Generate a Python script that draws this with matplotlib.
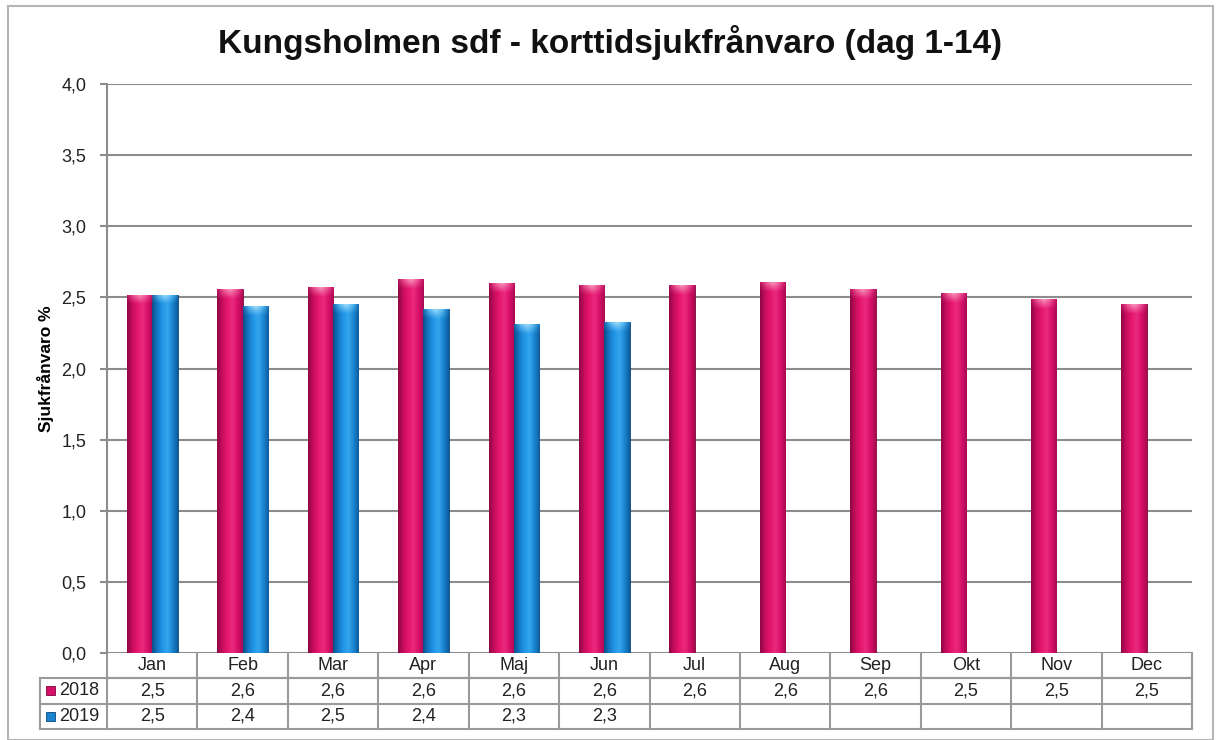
import numpy as np
import matplotlib
matplotlib.use("Agg")
import matplotlib.pyplot as plt
from matplotlib.colors import LinearSegmentedColormap
from matplotlib.patches import Rectangle
from matplotlib.transforms import blended_transform_factory

plt.rcParams['font.family'] = ['Liberation Sans', 'DejaVu Sans']

months = ['Jan', 'Feb', 'Mar', 'Apr', 'Maj', 'Jun', 'Jul', 'Aug', 'Sep', 'Okt', 'Nov', 'Dec']
vals_2018 = [2.52, 2.56, 2.57, 2.63, 2.60, 2.59, 2.59, 2.61, 2.56, 2.53, 2.49, 2.45]
vals_2019 = [2.52, 2.44, 2.45, 2.42, 2.31, 2.33]
series_names = ['2018', '2019']
yticks = [0.0, 0.5, 1.0, 1.5, 2.0, 2.5, 3.0, 3.5, 4.0]

W, H = 1219, 740
fig = plt.figure(figsize=(W / 100, H / 100), dpi=100)

# plot area in pixels: x 107..1192, y 84..653
ax = fig.add_axes([107 / W, (H - 653) / H, (1192 - 107) / W, (653 - 84) / H])

pink_cmap = LinearSegmentedColormap.from_list(
    'pink', ['#8e0745', '#c80d5c', '#e6166f', '#ea2a7c', '#d8106a', '#a80a50'])
blue_cmap = LinearSegmentedColormap.from_list(
    'blue', ['#0b4f8a', '#1478c4', '#2196e6', '#35a5ee', '#1a84d0', '#0e5c9c'])
pink_cap = LinearSegmentedColormap.from_list('pcap', ['#c01060', '#f2609e', '#f8a0c4', '#f2609e', '#c80d62'])
blue_cap = LinearSegmentedColormap.from_list('bcap', ['#1468b0', '#60c2f6', '#a8e0fc', '#60c2f6', '#1474bc'])

x = np.arange(len(months))
bw = 0.28
grad = np.linspace(0, 1, 64).reshape(1, -1)


def cap_image(cmap):
    rgba = cmap(np.linspace(0, 1, 64))[None, :, :].repeat(16, axis=0)
    rgba[:, :, 3] = np.linspace(0.95, 0.0, 16)[:, None]
    return rgba


def shade(bars, cmap, capmap):
    cap_rgba = cap_image(capmap)
    for b in bars:
        x0, w, h = b.get_x(), b.get_width(), b.get_height()
        im = ax.imshow(grad, cmap=cmap, extent=(x0, x0 + w, 0, h),
                       aspect='auto', zorder=3, interpolation='bilinear')
        im.set_clip_path(b)
        cap = ax.imshow(cap_rgba, extent=(x0, x0 + w, h - 0.07, h), origin='upper',
                        aspect='auto', zorder=3.5, interpolation='bilinear')
        cap.set_clip_path(b)


b18 = ax.bar(x - bw / 2, vals_2018, bw, color='#e0106a', edgecolor='#7a063a',
             linewidth=0.6, zorder=2)
b19 = ax.bar(np.arange(len(vals_2019)) + bw / 2, vals_2019, bw, color='#1a8ad4',
             edgecolor='#0a4478', linewidth=0.6, zorder=2)
shade(b18, pink_cmap, pink_cap)
shade(b19, blue_cmap, blue_cap)

ax.set_xlim(-0.5, len(months) - 0.5)
ax.set_ylim(0, 4.0)
ax.set_yticks(yticks)
ax.yaxis.set_major_formatter(plt.FuncFormatter(lambda v, _: '{:.1f}'.format(v).replace('.', ',')))
ax.set_xticks([])
ax.grid(axis='y', color='#8c8c8c', linewidth=1.5, zorder=0)
ax.set_axisbelow(True)
for s in ['top', 'right', 'bottom']:
    ax.spines[s].set_visible(False)
ax.spines['left'].set_color('#8c8c8c')
ax.spines['left'].set_linewidth(1.5)
ax.tick_params(axis='y', length=5, width=1.5, color='#8c8c8c', labelsize=13,
               labelcolor='#222222', pad=10)
ax.set_ylabel('Sjukfrånvaro %', fontsize=12.5, fontweight='bold', labelpad=5)

fig.text(0.5, 1 - 42 / H, 'Kungsholmen sdf - korttidsjukfrånvaro (dag 1-14)',
         ha='center', va='center', fontsize=24, fontweight='bold', color='#111111')

# data table under the chart
tr = blended_transform_factory(ax.transData, ax.transAxes)
row_h = 25.3 / (653 - 84)
line_kw = dict(color='#9a9a9a', linewidth=1.5, transform=tr, clip_on=False)
col_px = (1192 - 107) / 12
key_left = -0.5 - 67 / col_px
n = len(months)

# horizontal lines
ax.plot([-0.5, n - 0.5], [-row_h, -row_h], **line_kw)
ax.plot([key_left, n - 0.5], [-row_h, -row_h], **line_kw)
ax.plot([key_left, n - 0.5], [-2 * row_h, -2 * row_h], **line_kw)
ax.plot([key_left, n - 0.5], [-3 * row_h, -3 * row_h], **line_kw)
# vertical lines
for i in range(n + 1):
    ax.plot([i - 0.5, i - 0.5], [0, -3 * row_h], **line_kw)
ax.plot([key_left, key_left], [-row_h, -3 * row_h], **line_kw)

for i, m in enumerate(months):
    ax.text(i, -0.5 * row_h, m, transform=tr, ha='center', va='center',
            fontsize=13, color='#222222', clip_on=False)
for r, vals in enumerate([vals_2018, vals_2019]):
    for i, v in enumerate(vals):
        ax.text(i, -(1.5 + r) * row_h, '{:.1f}'.format(v).replace('.', ','),
                transform=tr, ha='center', va='center', fontsize=13,
                color='#222222', clip_on=False)

key_colors = ['#d8106a', '#1a84d0']
key_edges = ['#7a063a', '#0a4478']
sq_w = 9 / col_px
sq_h = 9 / (653 - 84)
for r, (name, c, ec) in enumerate(zip(series_names, key_colors, key_edges)):
    yc = -(1.5 + r) * row_h
    ax.add_patch(Rectangle((key_left + 6 / col_px, yc - sq_h / 2), sq_w, sq_h, transform=tr,
                           facecolor=c, edgecolor=ec, linewidth=0.6, clip_on=False))
    ax.text(key_left + 19 / col_px, yc, name, transform=tr, ha='left', va='center',
            fontsize=13, color='#222222', clip_on=False)

# outer chart border
fig.add_artist(Rectangle((8 / W, 0), (1213 - 8) / W, (H - 6) / H, transform=fig.transFigure,
                         facecolor='none', edgecolor='#b5b5b5', linewidth=1.5))

fig.savefig('out.png', dpi=100)
